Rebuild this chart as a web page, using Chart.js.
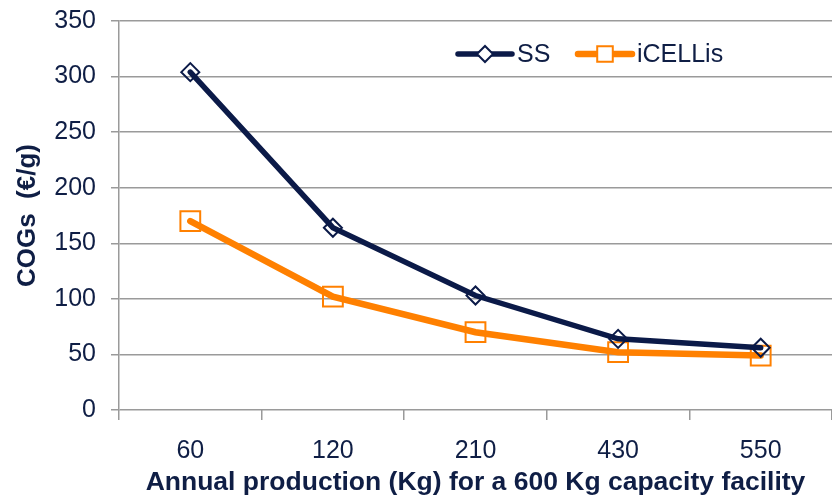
<!DOCTYPE html>
<html>
<head>
<meta charset="utf-8">
<script src="https://cdn.jsdelivr.net/npm/chart.js@4"></script>
<style>
  html, body { margin: 0; padding: 0; background: #fff; overflow: hidden; }
  #wrap { width: 832px; height: 497px; }
</style>
</head>
<body>
<div id="wrap"><canvas id="chart"></canvas></div>
<script>
var categories = ['60', '120', '210', '430', '550'];
var ssValues = [304, 164, 103, 64, 56];
var icellisValues = [170, 102, 70, 52, 49];
var yTicks = [0, 50, 100, 150, 200, 250, 300, 350];

var textColor = '#0f1e45';
var gridColor = '#9a9a9a';
var fontFamily = '"Liberation Sans", Arial, sans-serif';

// legend drawn inside the plot, line + marker like the original
var insideLegend = {
    id: 'insideLegend',
    afterDraw: function (chart) {
        var ctx = chart.ctx;
        var xs = [458, 578];
        var y = 54;
        ctx.save();
        chart.data.datasets.forEach(function (ds, i) {
            var x = xs[i];
            ctx.strokeStyle = ds.borderColor;
            ctx.lineWidth = ds.borderWidth;
            ctx.lineCap = 'round';
            ctx.beginPath();
            ctx.moveTo(x, y);
            ctx.lineTo(x + 54, y);
            ctx.stroke();
            ctx.fillStyle = '#ffffff';
            ctx.strokeStyle = ds.pointBorderColor;
            ctx.lineWidth = ds.pointBorderWidth;
            Chart.helpers.drawPoint(ctx, {
                pointStyle: ds.pointStyle,
                radius: ds.pointStyle === 'rect' ? 11 : 8,
                borderWidth: ds.pointBorderWidth
            }, x + 27, y);
            ctx.fillStyle = textColor;
            ctx.font = '25px ' + fontFamily;
            ctx.textBaseline = 'middle';
            ctx.fillText(ds.label, x + 59, y + 1);
        });
        ctx.restore();
    }
};

var ctxEl = document.getElementById('chart');
new Chart(ctxEl, {
    type: 'line',
    data: {
        labels: categories,
        datasets: [{
            label: 'SS',
            data: ssValues,
            borderColor: '#0b1a48',
            borderWidth: 5.5,
            borderCapStyle: 'round',
            pointStyle: 'rectRot',
            pointRadius: 9,
            pointBorderWidth: 2,
            pointBackgroundColor: 'rgba(255,255,255,0)',
            pointBorderColor: '#0b1a48',
            tension: 0
        }, {
            label: 'iCELLis',
            data: icellisValues,
            borderColor: '#ff8000',
            borderWidth: 6.5,
            borderCapStyle: 'round',
            pointStyle: 'rect',
            pointRadius: 14,
            pointBorderWidth: 2,
            pointBackgroundColor: 'rgba(255,255,255,0)',
            pointBorderColor: '#ff8000',
            tension: 0
        }]
    },
    options: {
        responsive: true,
        maintainAspectRatio: false,
        animation: false,
        layout: {
            autoPadding: false,
            padding: { top: 21, right: 0, left: 0, bottom: 0 }
        },
        plugins: {
            legend: { display: false },
            tooltip: { enabled: false }
        },
        scales: {
            x: {
                offset: true,
                grid: {
                    offset: true,
                    drawOnChartArea: false,
                    color: gridColor,
                    lineWidth: 1.5,
                    tickLength: 10
                },
                border: { display: false },
                ticks: {
                    color: textColor,
                    font: { family: fontFamily, size: 25 },
                    padding: 16
                },
                title: {
                    display: true,
                    text: 'Annual production (Kg) for a 600 Kg capacity facility',
                    color: textColor,
                    font: { family: fontFamily, size: 26.5, weight: 'bold' },
                    padding: { top: 0, bottom: -2 }
                },
                afterFit: function (scale) {
                    scale.height = 87;
                    scale.paddingRight = 0;
                    scale.paddingLeft = 0;
                }
            },
            y: {
                min: 0,
                max: 350,
                afterBuildTicks: function (scale) {
                    scale.ticks = yTicks.map(function (v) { return { value: v }; });
                },
                grid: {
                    color: gridColor,
                    lineWidth: 1.5,
                    tickLength: 8
                },
                border: { color: gridColor, width: 1.5 },
                ticks: {
                    color: textColor,
                    font: { family: fontFamily, size: 25 },
                    padding: 15
                },
                title: {
                    display: true,
                    text: 'COGs  (€/g)',
                    color: textColor,
                    font: { family: fontFamily, size: 26, weight: 'bold' },
                    padding: { top: 12, bottom: 0 }
                },
                afterFit: function (scale) {
                    scale.width = 119;
                    scale.paddingTop = 0;
                    scale.paddingBottom = 0;
                }
            }
        }
    },
    plugins: [insideLegend]
});
</script>
</body>
</html>
